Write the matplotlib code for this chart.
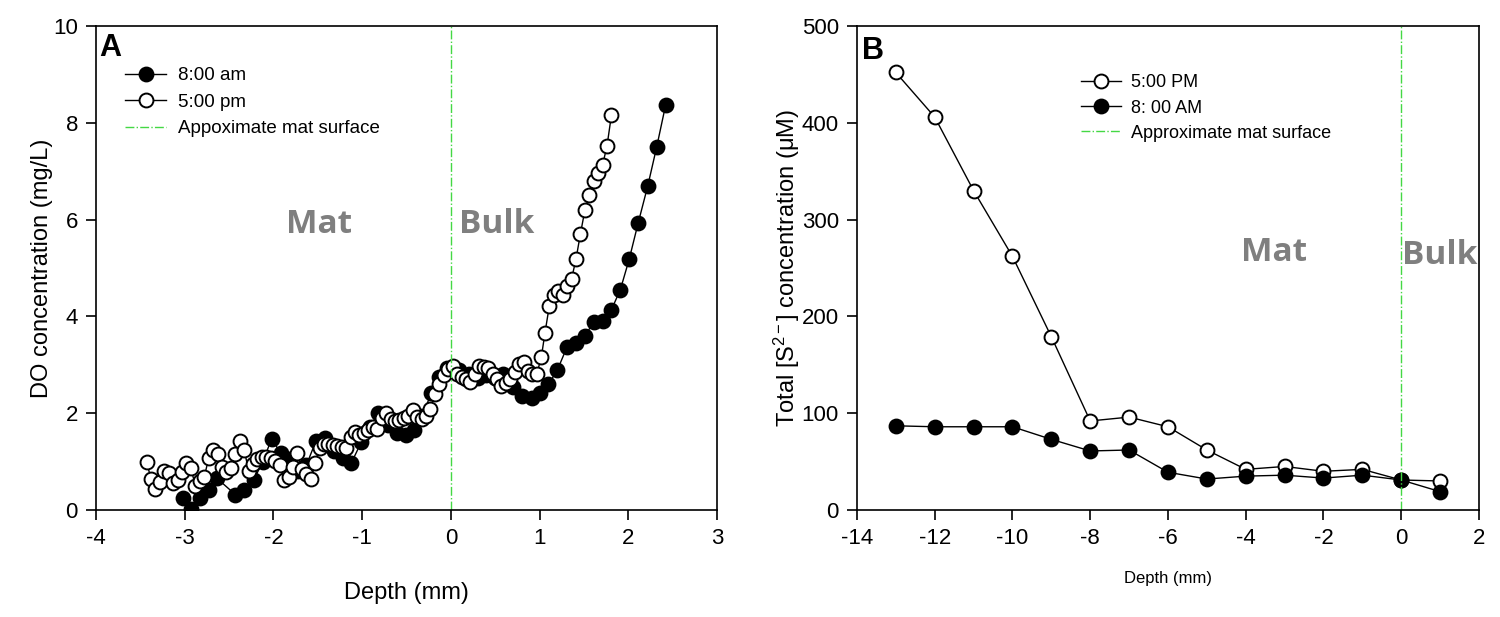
import matplotlib
matplotlib.use("Agg")
import matplotlib.pyplot as plt

plt.rcParams['font.family'] = ['Liberation Sans', 'DejaVu Sans']
plt.rcParams['mathtext.fontset'] = 'custom'
plt.rcParams['mathtext.rm'] = 'Liberation Sans'
plt.rcParams['mathtext.it'] = 'Liberation Sans:italic'
plt.rcParams['axes.unicode_minus'] = False

# Panel A: DO profile, 8:00 am (filled)
depth_am = [-3.02, -2.93, -2.83, -2.73, -2.64, -2.43, -2.33, -2.22, -2.12, -2.02,
            -1.92, -1.82, -1.72, -1.63, -1.52, -1.42, -1.32, -1.22, -1.12, -1.01,
            -0.91, -0.82, -0.71, -0.61, -0.51, -0.42, -0.32, -0.22, -0.13, -0.04,
            0.09, 0.20, 0.31, 0.40, 0.50, 0.59, 0.70, 0.80, 0.91, 1.00,
            1.10, 1.20, 1.31, 1.41, 1.51, 1.61, 1.71, 1.81, 1.91, 2.01,
            2.11, 2.22, 2.32, 2.42]
do_am = [0.25, 0.02, 0.25, 0.42, 0.66, 0.32, 0.42, 0.63, 1.00, 1.47,
         1.18, 1.05, 0.80, 0.92, 1.43, 1.48, 1.22, 1.07, 0.98, 1.40,
         1.72, 2.00, 1.75, 1.60, 1.54, 1.66, 1.95, 2.42, 2.75, 2.93,
         2.90, 2.82, 2.72, 2.78, 2.72, 2.82, 2.55, 2.36, 2.32, 2.42,
         2.60, 2.89, 3.37, 3.45, 3.59, 3.89, 3.90, 4.14, 4.55, 5.18,
         5.92, 6.70, 7.50, 8.36]

# Panel A: DO profile, 5:00 pm (open)
depth_pm = [-3.43, -3.38, -3.33, -3.28, -3.23, -3.18, -3.13, -3.08, -3.03, -2.98,
            -2.93, -2.88, -2.83, -2.78, -2.73, -2.68, -2.63, -2.58, -2.53, -2.48,
            -2.43, -2.38, -2.33, -2.28, -2.23, -2.18, -2.13, -2.08, -2.03, -1.98,
            -1.93, -1.88, -1.83, -1.78, -1.73, -1.68, -1.63, -1.58, -1.53, -1.48,
            -1.43, -1.38, -1.33, -1.28, -1.23, -1.18, -1.13, -1.08, -1.03, -0.98,
            -0.93, -0.88, -0.83, -0.78, -0.73, -0.68, -0.63, -0.58, -0.53, -0.48,
            -0.43, -0.38, -0.33, -0.28, -0.23, -0.18, -0.13, -0.08, -0.03, 0.02,
            0.07, 0.12, 0.17, 0.22, 0.27, 0.32, 0.37, 0.42, 0.47, 0.52,
            0.57, 0.62, 0.67, 0.72, 0.77, 0.82, 0.87, 0.92, 0.97, 1.02,
            1.06, 1.11, 1.16, 1.21, 1.26, 1.31, 1.36, 1.41, 1.46, 1.51,
            1.56, 1.61, 1.66, 1.71, 1.76, 1.81]
do_pm = [1.00, 0.64, 0.43, 0.57, 0.80, 0.76, 0.55, 0.63, 0.78, 0.98,
         0.86, 0.50, 0.60, 0.68, 1.07, 1.24, 1.16, 0.88, 0.78, 0.86,
         1.16, 1.42, 1.25, 0.81, 0.95, 1.06, 1.09, 1.09, 1.07, 1.02,
         0.92, 0.61, 0.68, 0.88, 1.17, 0.85, 0.75, 0.65, 0.98, 1.29,
         1.37, 1.37, 1.35, 1.33, 1.31, 1.29, 1.50, 1.62, 1.55, 1.60,
         1.65, 1.72, 1.68, 1.90, 2.00, 1.88, 1.84, 1.85, 1.90, 1.95,
         2.07, 1.92, 1.88, 1.95, 2.09, 2.40, 2.60, 2.78, 2.92, 2.97,
         2.81, 2.75, 2.70, 2.65, 2.80, 2.97, 2.96, 2.93, 2.81, 2.70,
         2.56, 2.62, 2.70, 2.85, 3.02, 3.05, 2.87, 2.82, 2.82, 3.16,
         3.65, 4.22, 4.45, 4.53, 4.45, 4.63, 4.77, 5.18, 5.70, 6.19,
         6.50, 6.80, 6.97, 7.13, 7.52, 8.16]

# Panel B: total sulfide
depth_s = [-13, -12, -11, -10, -9, -8, -7, -6, -5, -4, -3, -2, -1, 0, 1]
sulf_pm = [452, 406, 330, 262, 179, 92, 96, 86, 62, 42, 45, 40, 42, 31, 30]
sulf_am = [87, 86, 86, 86, 73, 61, 62, 39, 32, 35, 36, 33, 36, 31, 19]

green = '#44d844'
gray = '#7f7f7f'

fig = plt.figure(figsize=(15, 6.17), dpi=100)
axA = fig.add_axes([0.064, 0.1734, 0.414, 0.7844])
axB = fig.add_axes([0.5713, 0.1734, 0.4147, 0.7844])

mk = dict(markersize=10, markeredgewidth=1.4, linewidth=1.0, color='black',
          markeredgecolor='black')

# --- panel A
axA.plot(depth_am, do_am, '-o', markerfacecolor='black', label='8:00 am', **mk)
axA.plot(depth_pm, do_pm, '-o', markerfacecolor='white', label='5:00 pm', **mk)
axA.axvline(0, color=green, linestyle='-.', linewidth=1.0, label='Appoximate mat surface')
axA.set_xlim(-4, 3)
axA.set_ylim(0, 10)
axA.set_xticks(range(-4, 4))
axA.set_yticks(range(0, 11, 2))
axA.set_xlabel('Depth (mm)', fontsize=17, labelpad=24)
axA.set_ylabel('DO concentration (mg/L)', fontsize=17, labelpad=0)
axA.text(0.005, 0.985, 'A', transform=axA.transAxes, fontsize=22, fontweight='bold',
         ha='left', va='top')
axA.text(-1.49, 5.9, 'Mat', fontsize=24, fontweight='bold', color=gray,
         family='Open Sans', ha='center', va='center')
axA.text(0.52, 5.9, 'Bulk', fontsize=24, fontweight='bold', color=gray,
         family='Open Sans', ha='center', va='center')
axA.legend(loc='upper left', bbox_to_anchor=(0.047, 0.915), frameon=False,
           fontsize=13.5, handlelength=2.2, handletextpad=0.6, labelspacing=0.5,
           borderaxespad=0, borderpad=0)

# --- panel B
axB.plot(depth_s, sulf_pm, '-o', markerfacecolor='white', label='5:00 PM', **mk)
axB.plot(depth_s, sulf_am, '-o', markerfacecolor='black', label='8: 00 AM', **mk)
axB.axvline(0, color=green, linestyle='-.', linewidth=1.0, label='Approximate mat surface')
axB.set_xlim(-14, 2)
axB.set_ylim(0, 500)
axB.set_xticks(range(-14, 3, 2))
axB.set_yticks(range(0, 501, 100))
axB.set_xlabel('Depth (mm)', fontsize=12, labelpad=16)
axB.set_ylabel('Total [S$^{2-}$] concentration (\u03bcM)', fontsize=17, labelpad=0)
axB.text(0.008, 0.98, 'B', transform=axB.transAxes, fontsize=22, fontweight='bold',
         ha='left', va='top')
axB.text(-3.27, 266, 'Mat', fontsize=24, fontweight='bold', color=gray,
         family='Open Sans', ha='center', va='center')
axB.text(1.0, 263, 'Bulk', fontsize=24, fontweight='bold', color=gray,
         family='Open Sans', ha='center', va='center')
axB.legend(loc='upper left', bbox_to_anchor=(0.36, 0.9), frameon=False,
           fontsize=13, handlelength=2.2, handletextpad=0.6, labelspacing=0.45,
           borderaxespad=0, borderpad=0)

for ax in (axA, axB):
    ax.tick_params(direction='out', length=7, width=1.2, labelsize=16, pad=6,
                   top=False, right=False)
    for sp in ax.spines.values():
        sp.set_linewidth(1.2)

fig.savefig('out.png', dpi=100)
